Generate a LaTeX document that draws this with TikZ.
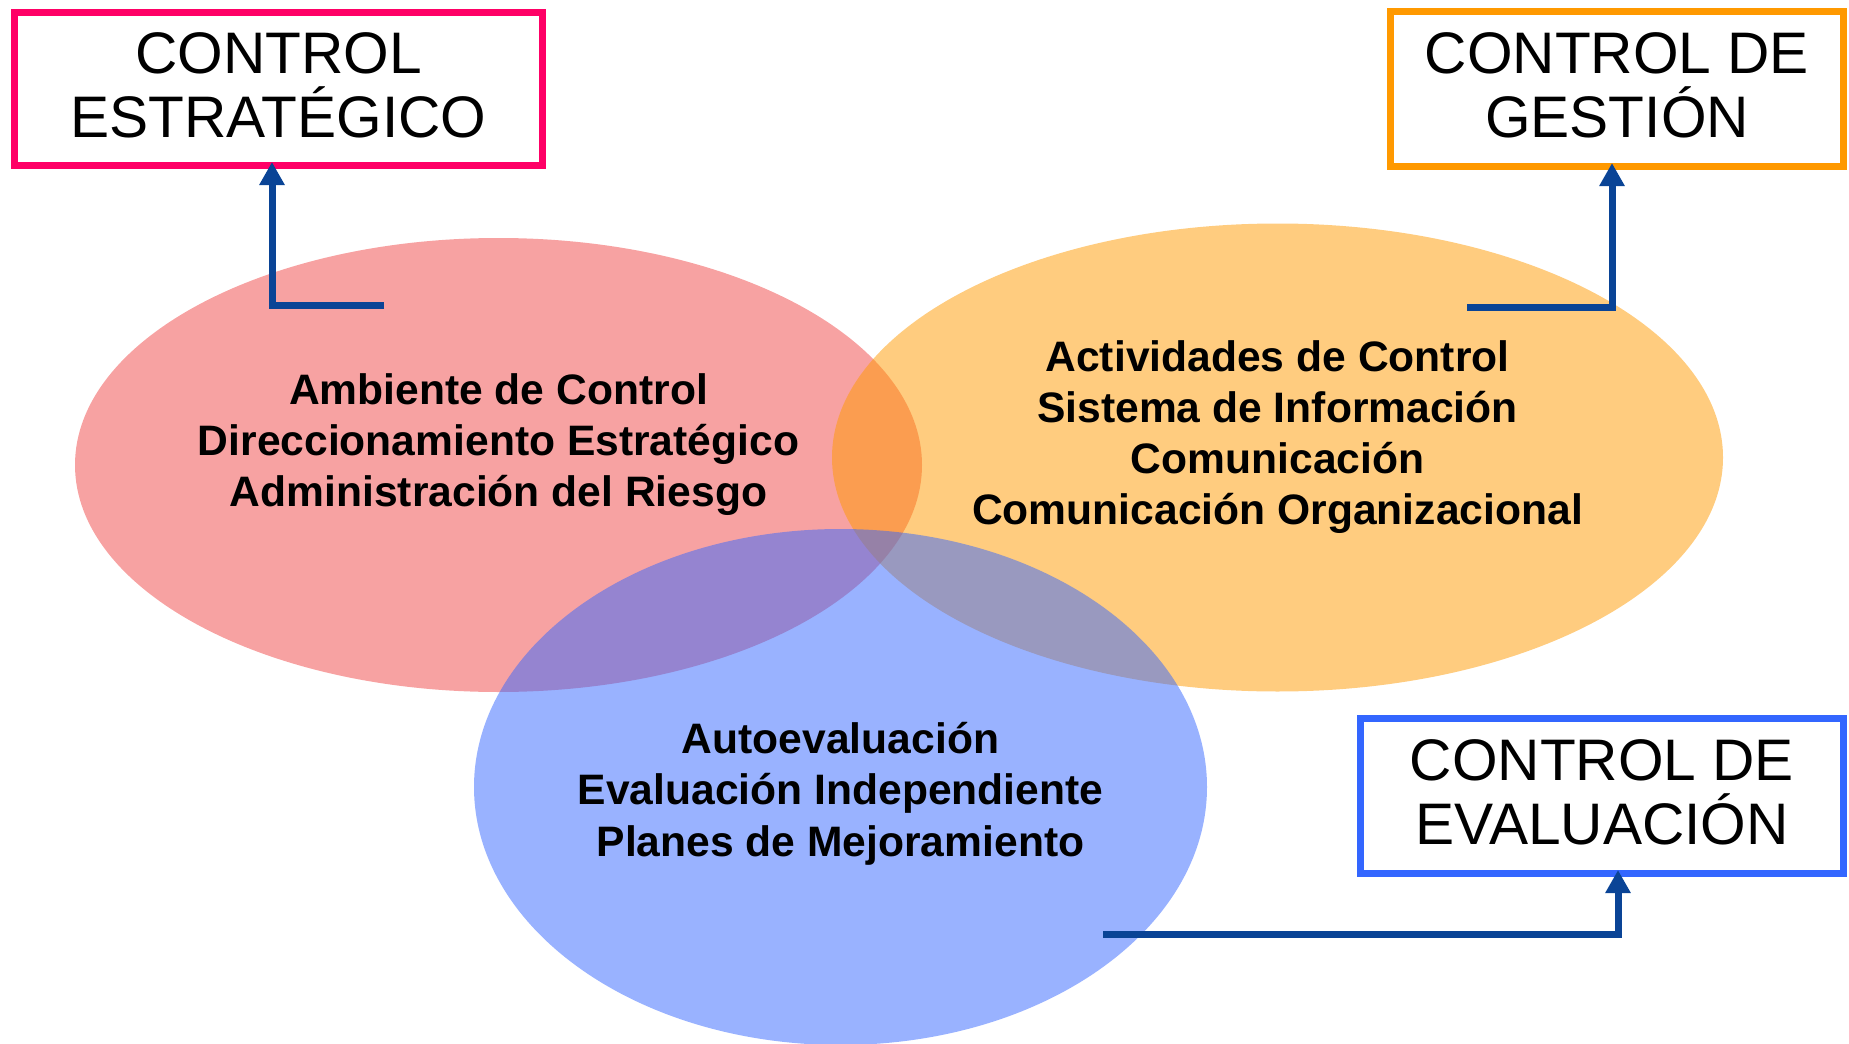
\documentclass[tikz,border=0pt]{standalone}
\usepackage{fontspec}
\setmainfont{Liberation Sans}
\usepackage{xcolor}
\usetikzlibrary{positioning, arrows.meta, shapes.geometric}
\definecolor{rosa}{RGB}{255,0,102}
\definecolor{naranja}{RGB}{255,153,0}
\definecolor{azul}{RGB}{51,102,255}
\definecolor{rojo}{RGB}{240,70,70}
\definecolor{marino}{RGB}{10,68,150}
\tikzset{
    zona/.style={ellipse, inner sep=0pt, outer sep=0pt, fill opacity=0.5}, % las tres elipses
    lista/.style={align=center, font=\bfseries\fontsize{21.3}{25.6}\selectfont}, % textos de cada elipse
    cuadro/.style={draw=#1, line width=3.5pt, fill=white, inner sep=0pt, outer sep=0pt,
        align=center, text depth=4.3pt, font=\fontsize{29.3}{32}\selectfont}, % cuadros de control
    flecha/.style={draw=marino, line width=3.5pt, shorten >=-1.75pt,
        -{Triangle[length=11.5pt, width=12pt]}},
}

\begin{document}
\begin{tikzpicture}[x=0.5pt, y=-0.5pt]
    \useasboundingbox (0,0) rectangle (1849,1044);

    % Elipses
    \node[zona, fill=rojo, minimum width=423.5pt, minimum height=227pt] (redE) at (498.5,465) {};
    \node[zona, fill=naranja, minimum width=445.5pt, minimum height=234pt] (orgE) at (1277.5,457.5) {};
    \node[zona, fill=azul, minimum width=366.5pt, minimum height=258pt] (bluE) at (840.5,787) {};

    % Textos
    \node[lista] (redT) at ([yshift=10.2pt]redE.center)
        {Ambiente de Control\\Direccionamiento Estratégico\\Administración del Riesgo};
    \node[lista] (orgT) at ([yshift=10.2pt]orgE.center)
        {Actividades de Control\\Sistema de Información\\Comunicación\\Comunicación Organizacional};
    \node[lista] (bluT) at ([yshift=-3.3pt]bluE.center)
        {Autoevaluación\\Evaluación Independiente\\Planes de Mejoramiento};

    % Cuadros
    \node[cuadro=rosa, minimum width=264pt, minimum height=76.5pt] (boxE) at (278.5,89) {CONTROL\\ESTRATÉGICO};
    \node[cuadro=naranja, minimum width=226.5pt, minimum height=77.5pt] (boxG) at (1617,89) {CONTROL DE\\GESTIÓN};
    \node[cuadro=azul, minimum width=241.5pt, minimum height=77.5pt] (boxV) at (1602,796) {CONTROL DE\\EVALUACIÓN};

    % Flechas
    \coordinate (inE) at (384,305);
    \coordinate (inG) at (1467,307);
    \coordinate (inV) at (1103,934);
    \draw[flecha] (inE) -| ([xshift=-3.25pt]boxE.south);
    \draw[flecha] (inG) -| ([xshift=-2.5pt]boxG.south);
    \draw[flecha] (inV) -| ([xshift=8pt]boxV.south);
\end{tikzpicture}
\end{document}
